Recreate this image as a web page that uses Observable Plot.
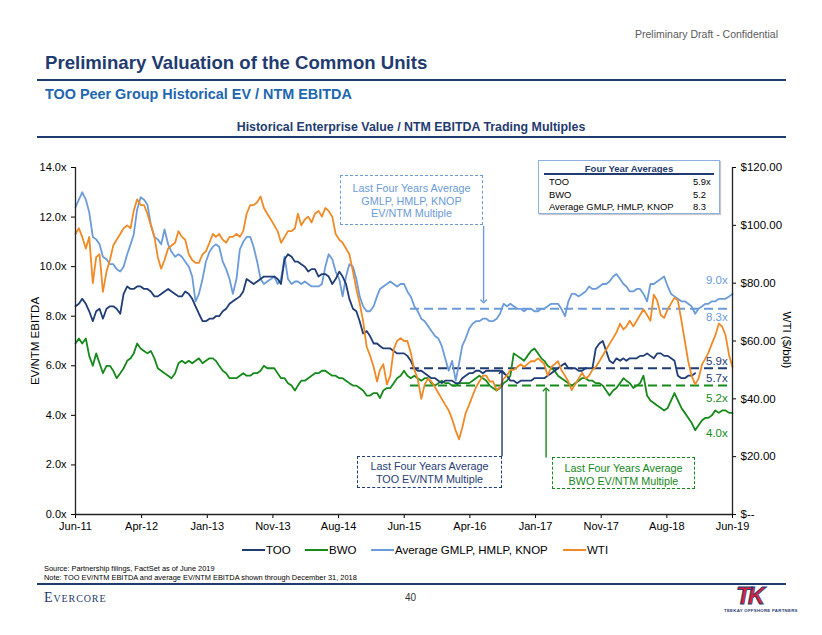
<!DOCTYPE html>
<html><head><meta charset="utf-8">
<script src="https://cdn.jsdelivr.net/npm/d3@7"></script>
<script src="https://cdn.jsdelivr.net/npm/@observablehq/plot@0.6"></script>
<style>
body{margin:0;background:#fff;font-family:"Liberation Sans",Arial,sans-serif;}
#page{position:relative;width:822px;height:635px;overflow:hidden;background:#fff;}
#chart{position:absolute;left:0;top:0;}
.abs{position:absolute;white-space:nowrap;}
.rule{position:absolute;background:#1f3b70;}
.box{position:absolute;box-sizing:border-box;background:#fff;text-align:center;font-size:10.8px;line-height:12.5px;}
.lg{position:absolute;top:543px;height:14px;font-size:11.5px;line-height:14px;display:flex;align-items:center;white-space:nowrap;}
.lg span.sw{display:inline-block;width:23px;height:2.5px;margin-right:1px;}
.vl{position:absolute;font-size:11.5px;line-height:13px;white-space:nowrap;}
</style></head><body>
<div id="page">
<div id="chart"></div>
<div class="abs" style="right:44px;top:28px;font-size:10.5px;color:#5a5a5a;">Preliminary Draft - Confidential</div>
<div class="abs" style="left:45px;top:52px;font-size:18.6px;font-weight:bold;color:#1f3b70;">Preliminary Valuation of the Common Units</div>
<div class="rule" style="left:37px;top:79px;width:749px;height:2px;"></div>
<div class="abs" style="left:45px;top:86px;font-size:14.4px;font-weight:bold;color:#2166ae;">TOO Peer Group Historical EV / NTM EBITDA</div>
<div class="abs" style="left:0;width:822px;text-align:center;top:120px;font-size:12.4px;font-weight:bold;color:#1f3b70;">Historical Enterprise Value / NTM EBITDA Trading Multiples</div>
<div class="rule" style="left:37px;top:136px;width:749px;height:1.5px;"></div>

<div class="abs" style="left:35px;top:341px;font-size:11.5px;transform:translate(-50%,-50%) rotate(-90deg);">EV/NTM EBITDA</div>
<div class="abs" style="left:787px;top:340px;font-size:11.5px;transform:translate(-50%,-50%) rotate(90deg);">WTI ($/bbl)</div>

<div id="fy" class="abs" style="left:538px;top:160px;width:182px;height:54px;border:1px solid #8fb1e0;box-sizing:border-box;box-shadow:1px 1px 1px #c8c8c8;background:#fff;"></div>

<div id="boxes"></div>
<div id="vlabels"></div>
<div id="legend"></div>

<div class="abs" style="left:44px;top:564px;font-size:7.4px;line-height:9px;">Source: Partnership filings, FactSet as of June 2019<br>Note: TOO EV/NTM EBITDA and average EV/NTM EBITDA shown through December 31, 2018</div>
<div class="rule" style="left:37px;top:583px;width:749px;height:2px;"></div>
<div class="abs" style="left:44px;top:590px;font-family:'Liberation Serif','DejaVu Serif',serif;font-size:14px;font-variant:small-caps;letter-spacing:0.9px;color:#1f3b70;">Evercore</div>
<div class="abs" style="left:405px;top:592px;font-size:10px;color:#333;">40</div>
<div class="abs" style="left:736px;top:584px;font-size:24px;font-weight:bold;font-style:italic;color:#d8223c;-webkit-text-stroke:0.8px #1f3b70;letter-spacing:-3px;line-height:24px;">TK</div>
<div class="abs" style="left:724px;top:608px;font-size:4.3px;font-weight:bold;color:#1f3b70;letter-spacing:0.3px;">TEEKAY OFFSHORE PARTNERS</div>
</div>
<script>
// ---------- data ----------
const seriesNames = ["TOO", "BWO", "Average GMLP, HMLP, KNOP", "WTI"];
const seriesColors = ["#1f3c75", "#15891a", "#6b9bd9", "#f08a26"];

const tickLabels = ["2011-06-16","2012-04-05","2013-01-22","2013-11-10","2014-08-29","2015-06-17","2016-04-04","2017-01-21","2017-11-09","2018-08-28","2019-06-16"];
const leftTicks = [0, 2, 4, 6, 8, 10, 12, 14];
const wtiTicks = [0, 20, 40, 60, 80, 100, 120];

// semi-monthly observations (1st and 16th), Jun 16 2011 .. Jun 16 2019
const tooValues = [
8.4,8.5,8.7,8.5,8.2,7.8,8.2,8.3,7.9,8.3,
8.4,8.4,8.3,8.1,8.9,9.2,9.1,9.1,9.2,9.2,
9.1,9.1,9.0,8.8,8.8,8.9,9.0,9.1,9.0,8.9,
8.8,8.8,9.0,8.9,8.7,8.4,8.1,7.8,7.8,7.9,
7.9,8.0,8.0,8.2,8.3,8.5,8.6,8.7,8.8,9.0,
9.5,9.4,9.3,9.4,9.5,9.6,9.6,9.6,9.6,9.5,
9.3,10.3,10.5,10.4,10.2,10.2,10.1,10.0,9.8,9.9,
9.9,9.6,9.7,9.7,9.6,9.3,9.5,9.8,9.6,9.3,
8.7,8.3,8.2,7.8,7.3,7.4,7.2,6.9,6.9,6.8,
6.7,6.7,6.7,6.6,6.5,6.5,6.5,6.4,6.2,5.9,
5.8,5.8,5.7,5.6,5.5,5.5,5.4,5.3,5.4,5.4,
5.4,5.3,5.3,5.5,5.6,5.7,5.7,5.8,5.8,5.7,
5.8,5.8,5.8,5.8,5.8,5.7,5.6,5.4,5.4,5.3,
5.4,5.4,5.4,5.4,5.5,5.5,5.5,5.5,5.6,5.7,
5.8,5.9,6.0,6.1,5.9,5.9,5.9,5.8,5.8,5.9,
5.9,5.9,6.7,6.9,7.0,6.6,6.2,6.1,6.3,6.2,
6.3,6.2,6.3,6.3,6.3,6.4,6.4,6.5,6.4,6.3,
6.5,6.5,6.4,6.4,6.3,6.2,5.6,5.5,5.5,5.6,
5.6,5.7];

const bwoValues = [
6.9,7.1,6.9,7.1,6.4,6.0,6.5,6.1,5.7,6.0,
6.0,5.8,5.5,5.7,5.9,6.2,6.3,6.5,6.9,6.7,
6.6,6.5,6.6,6.3,5.9,5.8,5.7,5.6,5.5,5.7,
6.1,6.2,6.1,6.2,6.1,6.2,6.3,6.1,6.2,6.3,
6.3,6.2,6.0,5.8,5.7,5.5,5.5,5.5,5.6,5.7,
5.6,5.6,5.7,5.7,5.8,6.0,5.9,5.9,5.9,5.7,
5.5,5.5,5.3,5.2,5.0,5.2,5.4,5.4,5.5,5.6,
5.7,5.7,5.8,5.8,5.7,5.6,5.6,5.5,5.5,5.4,
5.3,5.2,5.2,5.1,5.0,4.8,4.8,4.9,4.9,4.7,
5.0,5.1,5.1,5.3,5.5,5.6,5.8,5.6,5.5,5.6,
5.5,5.4,5.5,5.5,5.3,5.2,5.3,5.4,5.3,5.3,
5.2,5.2,5.3,5.3,5.3,5.3,5.4,5.5,5.6,5.5,
5.4,5.2,5.1,5.0,5.1,5.3,5.4,5.6,6.5,6.4,
6.3,6.2,6.4,6.6,6.7,6.5,6.3,6.2,6.0,5.9,
5.8,5.6,5.5,5.4,5.3,5.2,5.3,5.4,5.5,5.5,
5.4,5.4,5.3,5.3,5.2,5.0,4.8,5.0,5.1,5.3,
5.5,5.4,5.3,5.1,5.2,5.3,5.6,4.8,4.6,4.5,
4.4,4.3,4.2,4.3,4.6,4.9,4.6,4.3,4.1,3.9,
3.7,3.4,3.6,3.8,3.9,3.9,4.0,4.2,4.1,4.2,
4.2,4.1,4.1];

const peerAvgValues = [
12.4,12.7,13.0,12.7,12.2,11.2,11.1,10.9,10.4,10.3,
10.1,10.1,9.9,9.8,10.0,10.5,10.9,11.3,12.3,12.8,
12.7,12.5,11.7,11.2,11.1,10.9,11.5,10.9,10.6,10.4,
10.5,10.4,10.2,10.0,9.6,8.6,8.9,9.5,10.2,10.6,
10.8,10.9,10.8,10.2,9.9,9.5,8.9,9.5,10.7,11.0,
11.2,11.2,10.8,10.2,9.5,9.3,9.4,9.5,9.6,9.3,
9.5,10.4,9.5,9.3,9.4,9.4,9.3,9.4,9.3,9.2,
9.2,9.2,9.3,10.0,10.5,10.3,9.8,9.5,8.8,9.6,
10.1,10.0,9.5,8.8,8.4,8.2,8.2,8.4,8.8,9.1,
9.2,9.3,9.4,9.3,9.2,9.3,9.3,9.0,8.8,8.4,
8.2,7.9,7.8,7.6,7.4,7.2,7.1,6.8,6.3,5.8,
6.2,5.4,6.1,6.8,7.1,7.5,7.7,7.8,7.8,7.9,
7.9,7.8,7.8,7.9,8.1,8.5,8.4,8.5,8.4,8.3,
8.3,8.2,8.3,8.3,8.2,8.2,8.3,8.3,8.4,8.5,
8.5,8.5,8.3,8.0,8.6,8.9,8.9,8.8,8.9,9.0,
9.2,9.1,9.1,9.2,9.3,9.3,9.4,9.6,9.7,9.5,
9.3,9.2,9.0,9.0,9.1,9.1,8.9,8.6,9.3,9.3,
9.4,9.5,9.6,9.2,8.9,8.8,8.7,8.6,8.6,8.5,
8.4,8.1,8.3,8.4,8.5,8.5,8.6,8.6,8.7,8.7,
8.7,8.8,8.9];

const wtiValues = [
97,99,96,92,96,80,89,90,77,84,
88,93,95,97,99,100,99,105,109,107,
107,104,100,96,89,85,88,92,93,94,
98,96,95,90,88,87,87,90,91,94,
97,96,97,95,94,96,96,97,96,98,
104,107,107,108,110,106,104,102,100,98,
94,96,98,98,99,104,100,102,103,101,
104,105,103,106,105,103,97,95,94,92,
90,84,78,73,67,58,55,51,46,50,
52,45,48,57,60,61,60,60,56,50,
47,40,45,47,46,44,42,40,38,36,
33,29,26,30,35,38,41,44,46,48,
48,46,46,43,44,47,48,50,50,51,
52,51,52,53,53,54,53,52,48,51,
52,53,50,48,46,43,45,47,49,47,
48,50,51,53,55,57,59,61,63,66,
64,65,67,65,67,69,71,69,67,76,
74,69,68,71,73,75,74,67,60,53,
48,45,47,52,54,56,59,62,66,65,
62,55,51];

// four-year averages
const fourYearNames = ["TOO", "BWO", "Average GMLP, HMLP, KNOP"];
const fourYearValues = [5.9, 5.2, 8.3];
const fourYearText = ["5.9x", "5.2", "8.3"];
const fourYearStart = "2015-07-15";

// end-of-line value labels
const endLabelText = ["9.0x", "8.3x", "5.9x", "5.7x", "5.2x", "4.0x"];
const endLabelSeries = ["Average GMLP, HMLP, KNOP", "Average GMLP, HMLP, KNOP", "TOO", "TOO", "BWO", "BWO"];

// ---------- build ----------
const x0 = new Date(Date.UTC(2011, 5, 16));
const x1 = new Date(Date.UTC(2019, 5, 16));
const dates = [];
for (const m of d3.utcMonths(new Date(Date.UTC(2011, 5, 1)), new Date(Date.UTC(2019, 6, 1)))) {
  for (const day of [1, 16]) {
    const d = new Date(Date.UTC(m.getUTCFullYear(), m.getUTCMonth(), day));
    if (d >= x0 && d <= x1) dates.push(d);
  }
}
const wtiK = 14 / 120;
const color = Object.fromEntries(seriesNames.map((s, i) => [s, seriesColors[i]]));
const rows = [];
const addSeries = (name, vals, k = 1) => vals.forEach((v, i) => rows.push({date: dates[i], value: v * k, series: name}));
addSeries("Average GMLP, HMLP, KNOP", peerAvgValues);
addSeries("BWO", bwoValues);
addSeries("TOO", tooValues);
addSeries("WTI", wtiValues, wtiK);

const avgRules = fourYearNames.map((n, i) => ({series: n, value: fourYearValues[i], start: new Date(fourYearStart), end: x1}));

const arrows = [
  {series: "Average GMLP, HMLP, KNOP", date: new Date("2016-06-04"), from: 11.65, to: 8.6},
  {series: "TOO", date: new Date("2016-08-25"), from: 2.35, to: 5.75},
  {series: "BWO", date: new Date("2017-03-09"), from: 2.3, to: 5.05}
];

const chart = Plot.plot({
  width: 822, height: 635,
  marginTop: 167, marginBottom: 121, marginLeft: 75, marginRight: 90,
  style: {fontFamily: "'Liberation Sans', Arial, sans-serif", fontSize: "11px", background: "transparent", color: "#000"},
  x: {type: "utc", domain: [x0, x1]},
  y: {domain: [0, 14]},
  color: {domain: seriesNames, range: seriesColors},
  marks: [
    Plot.axisY({ticks: leftTicks, tickFormat: d => d.toFixed(1) + "x", tickSize: 4, tickPadding: 5, fontSize: 11, label: null}),
    Plot.axisY({anchor: "right", ticks: wtiTicks.map(d => d * wtiK), tickFormat: d => { const w = Math.round(d / wtiK); return w === 0 ? "$--" : "$" + w.toFixed(2); }, tickSize: 3, tickPadding: 5, fontSize: 11.5, label: null}),
    Plot.axisX({ticks: tickLabels.map(d => new Date(d)), tickFormat: d3.utcFormat("%b-%y"), tickSize: 4, tickPadding: 4, fontSize: 11, label: null}),
    Plot.ruleY(avgRules, {y: "value", x1: "start", x2: "end", stroke: "series", strokeWidth: 2, strokeDasharray: "9,5"}),
    Plot.line(rows, {x: "date", y: "value", z: "series", stroke: "series", strokeWidth: 1.8}),
    Plot.link(arrows, {x1: "date", x2: "date", y1: "from", y2: "to", stroke: "series", strokeWidth: 1.4, markerEnd: "arrow"}),
    Plot.ruleX([x0], {stroke: "#222", strokeWidth: 1.3}),
    Plot.ruleX([x1], {stroke: "#222", strokeWidth: 1.3}),
    Plot.ruleY([0], {stroke: "#222", strokeWidth: 1.3})
  ]
});
document.getElementById("chart").appendChild(chart);

// Four year averages table
const fy = document.getElementById("fy");
fy.innerHTML = `<div style="position:absolute;left:0;width:180px;top:2px;text-align:center;font-size:9.5px;font-weight:bold;color:#1f3b70;line-height:11px;">Four Year Averages</div>
<div style="position:absolute;left:5px;width:170px;top:12px;height:1.5px;background:#1f3b70;"></div>` +
fourYearNames.map((n, i) => `<div style="position:absolute;left:10px;top:${15 + i * 12.5}px;font-size:9.4px;line-height:11px;">${n}</div><div style="position:absolute;left:154px;top:${15 + i * 12.5}px;font-size:9.4px;line-height:11px;">${fourYearText[i]}</div>`).join("");

// annotation boxes
const boxes = [
  {left: 340, top: 175, w: 143, h: 50, pad: 6, series: "Average GMLP, HMLP, KNOP", lines: ["Last Four Years Average", "GMLP, HMLP, KNOP", "EV/NTM Multiple"]},
  {left: 357, top: 456, w: 145, h: 32, pad: 3, series: "TOO", lines: ["Last Four Years Average", "TOO EV/NTM Multiple"]},
  {left: 552, top: 457, w: 143, h: 32, pad: 4, series: "BWO", lines: ["Last Four Years Average", "BWO EV/NTM Multiple"]}
];
document.getElementById("boxes").innerHTML = boxes.map(b =>
  `<div class="box" style="left:${b.left}px;top:${b.top}px;width:${b.w}px;height:${b.h}px;padding-top:${b.pad}px;border:1.5px dashed ${color[b.series]};color:${color[b.series]};">${b.lines.join("<br>")}</div>`).join("");

// value labels
const vlTop = [274, 311, 355, 372, 392, 427];
document.getElementById("vlabels").innerHTML = endLabelText.map((t, i) =>
  `<div class="vl" style="left:706px;top:${vlTop[i]}px;color:${color[endLabelSeries[i]]};">${t}</div>`).join("");

// legend
const lgLeft = [242, 305, 371, 563];
document.getElementById("legend").innerHTML = seriesNames.map((s, i) =>
  `<div class="lg" style="left:${lgLeft[i]}px;"><span class="sw" style="background:${color[s]};"></span>${s}</div>`).join("");
</script>
</body></html>
